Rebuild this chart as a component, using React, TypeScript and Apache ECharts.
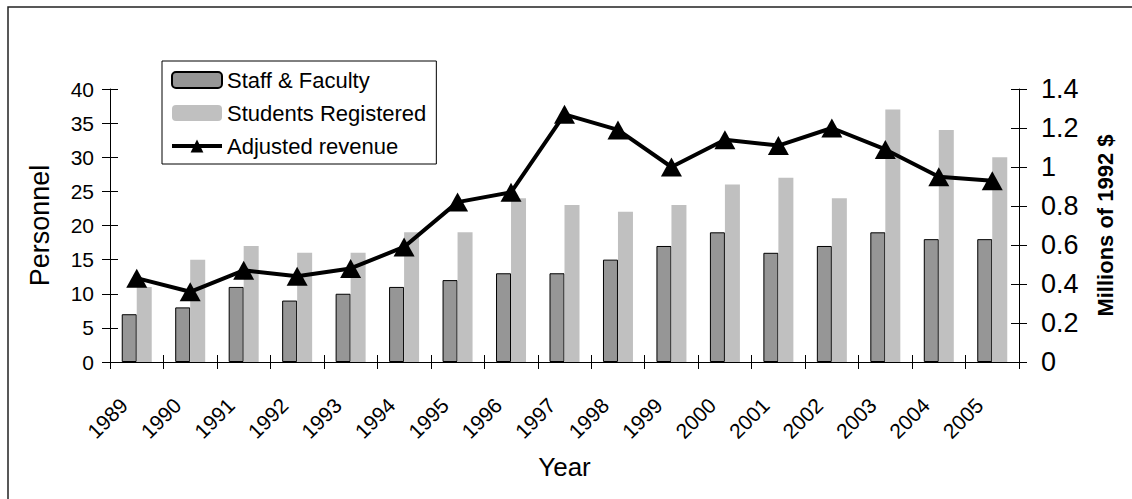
import React, { useEffect, useRef } from "react";
import * as echarts from "echarts";

const years = [
  "1989", "1990", "1991", "1992", "1993", "1994", "1995", "1996", "1997",
  "1998", "1999", "2000", "2001", "2002", "2003", "2004", "2005",
];
const staffFaculty = [7, 8, 11, 9, 10, 11, 12, 13, 13, 15, 17, 19, 16, 17, 19, 18, 18];
const studentsRegistered = [11, 15, 17, 16, 16, 19, 19, 24, 23, 22, 23, 26, 27, 24, 37, 34, 30];
const adjustedRevenue = [
  0.43, 0.36, 0.47, 0.44, 0.48, 0.59, 0.82, 0.87, 1.27,
  1.19, 1.0, 1.14, 1.11, 1.2, 1.09, 0.95, 0.93,
];

const FONT = 'Arial, "Liberation Sans", sans-serif';

export default function App() {
  const ref = useRef<HTMLDivElement>(null);

  useEffect(() => {
    if (!ref.current) return;
    const chart = echarts.init(ref.current, undefined, { renderer: "svg" });

    // ticks that cross the axis line: one axis draws them outside, a twin draws them inside
    const tickStyle = (inside: boolean, length = 8) => ({
      show: true,
      inside,
      length,
      lineStyle: { color: "#000", width: 1 },
    });

    chart.setOption({
      animation: false,
      backgroundColor: "#fff",
      textStyle: { fontFamily: FONT, color: "#000" },
      grid: { left: 110, right: 113, top: 89, bottom: 137, containLabel: false },
      graphic: [
        {
          type: "rect",
          shape: { x: 8, y: 7, width: 1140, height: 500 },
          style: { fill: "none", stroke: "#222", lineWidth: 1.5 },
          silent: true,
        },
      ],
      legend: {
        orient: "vertical",
        left: 162,
        top: 61,
        padding: [7, 10, 6, 8],
        itemWidth: 50,
        itemHeight: 16,
        itemGap: 9,
        backgroundColor: "#fff",
        borderColor: "#000",
        borderWidth: 1,
        lineStyle: { width: 4 },
        textStyle: { fontFamily: FONT, fontSize: 22, color: "#000", lineHeight: 24 },
        data: [
          "Staff & Faculty",
          "Students Registered",
          { name: "Adjusted revenue", lineStyle: { width: 4, color: "#000" } },
        ],
      },
      xAxis: [
        {
          type: "category",
          data: years,
          position: "bottom",
          name: "Year",
          nameLocation: "middle",
          nameGap: 92,
          nameTextStyle: { fontFamily: FONT, fontSize: 26, color: "#000" },
          axisLine: { show: true, lineStyle: { color: "#000", width: 1 } },
          axisTick: tickStyle(false, 7),
          axisLabel: {
            rotate: 45,
            margin: 27,
            padding: [0, 18, 0, 0],
            fontFamily: FONT,
            fontSize: 21,
            color: "#000",
            interval: 0,
          },
          splitLine: { show: false },
        },
        {
          type: "category",
          data: years,
          position: "bottom",
          axisLine: { show: false },
          axisTick: tickStyle(true, 7),
          axisLabel: { show: false },
          splitLine: { show: false },
        },
      ],
      yAxis: [
        {
          type: "value",
          position: "left",
          min: 0,
          max: 40,
          interval: 5,
          name: "Personnel",
          nameLocation: "middle",
          nameRotate: 90,
          nameGap: 57,
          nameTextStyle: { fontFamily: FONT, fontSize: 27, color: "#000" },
          axisLine: { show: true, lineStyle: { color: "#000", width: 1 } },
          axisTick: tickStyle(false),
          axisLabel: { margin: 16, fontFamily: FONT, fontSize: 21, color: "#000" },
          splitLine: { show: false },
        },
        {
          type: "value",
          position: "right",
          min: 0,
          max: 1.4,
          interval: 0.2,
          name: "Millions of 1992 $",
          nameLocation: "middle",
          nameRotate: 90,
          nameGap: 75,
          nameTextStyle: {
            fontFamily: FONT,
            fontSize: 22,
            fontWeight: "bold",
            color: "#000",
          },
          axisLine: { show: true, lineStyle: { color: "#000", width: 1 } },
          axisTick: tickStyle(false),
          axisLabel: { margin: 22, fontFamily: FONT, fontSize: 27, color: "#000" },
          splitLine: { show: false },
        },
        {
          type: "value",
          position: "left",
          min: 0,
          max: 40,
          interval: 5,
          axisLine: { show: false },
          axisTick: tickStyle(true),
          axisLabel: { show: false },
          splitLine: { show: false },
        },
        {
          type: "value",
          position: "right",
          min: 0,
          max: 1.4,
          interval: 0.2,
          axisLine: { show: false },
          axisTick: tickStyle(true),
          axisLabel: { show: false },
          splitLine: { show: false },
        },
      ],
      series: [
        {
          name: "Staff & Faculty",
          type: "bar",
          xAxisIndex: 0,
          yAxisIndex: 0,
          data: staffFaculty,
          barWidth: 15,
          barGap: "0%",
          itemStyle: { color: "#969696", borderColor: "#000", borderWidth: 1 },
        },
        {
          name: "Students Registered",
          type: "bar",
          xAxisIndex: 0,
          yAxisIndex: 0,
          data: studentsRegistered,
          barWidth: 15,
          barGap: "0%",
          itemStyle: { color: "#c0c0c0" },
        },
        {
          name: "Adjusted revenue",
          type: "line",
          xAxisIndex: 0,
          yAxisIndex: 1,
          data: adjustedRevenue,
          z: 5,
          symbol: "triangle",
          symbolSize: [21, 19],
          showAllSymbol: true,
          lineStyle: { color: "#000", width: 4 },
          itemStyle: { color: "#000" },
        },
      ],
    });

    return () => chart.dispose();
  }, []);

  return (
    <div
      ref={ref}
      style={{ position: "absolute", left: 0, top: 0, width: 1132, height: 499 }}
    />
  );
}
